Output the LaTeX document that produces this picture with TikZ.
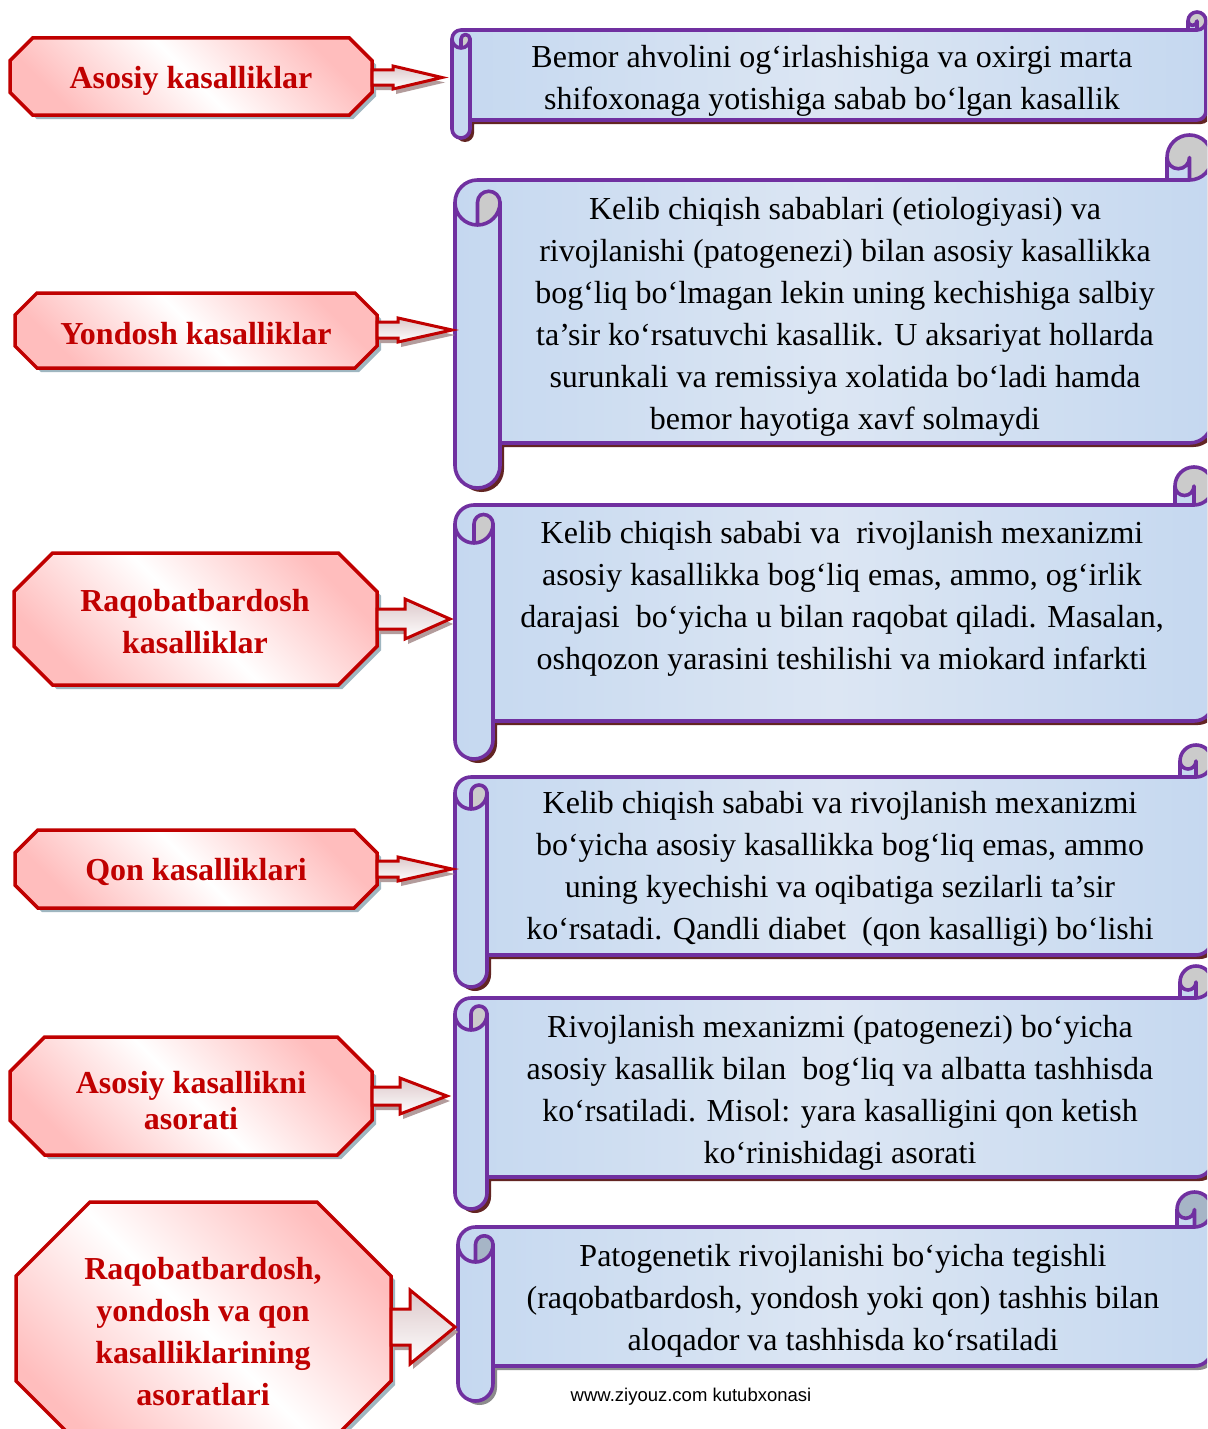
\documentclass[tikz,border=0pt]{standalone}
\usepackage{fontspec}
\setmainfont{Liberation Serif}
\newfontfamily\wmfont{Liberation Sans}
\definecolor{scrollblue}{HTML}{C5D8F0}
\definecolor{scrolllight}{HTML}{DCE6F3}
\definecolor{purp}{HTML}{7030A0}
\definecolor{scrollshadow}{HTML}{632523}
\definecolor{greyshadow}{HTML}{8C8C8C}
\definecolor{redline}{HTML}{C00000}
\definecolor{pinkc}{HTML}{FFBDBD}
\definecolor{octshadow}{HTML}{9FB6C0}
\definecolor{arrshadow}{HTML}{B39C9C}
\definecolor{arrtop}{HTML}{DCC8CA}
\definecolor{curlgrey}{HTML}{CBCBCB}
\definecolor{curlblue}{HTML}{A6B5C6}
\tikzset{
  scrollpath/.style={insert path={(\sL,{\sT+1.5*\sC}) arc[start angle=180,end angle=270,radius=\sH] -- ({\sR-\sC},{\sT+\sC}) -- ({\sR-\sC},{\sT+\sH}) arc[start angle=180,end angle=360,radius=\sH] -- (\sR,{\sB-1.5*\sC}) arc[start angle=0,end angle=90,radius=\sH] -- ({\sL+\sC},{\sB-\sC}) -- ({\sL+\sC},{\sB-\sH}) arc[start angle=0,end angle=180,radius=\sH] -- cycle}},
  octpath/.style={insert path={({\oL+\oC},\oT) -- ({\oR-\oC},\oT) -- (\oR,{\oT+\oC}) -- (\oR,{\oB-\oC}) -- ({\oR-\oC},\oB) -- ({\oL+\oC},\oB) -- (\oL,{\oB-\oC}) -- (\oL,{\oT+\oC}) -- cycle}},
  arrpath/.style={insert path={(\aA,{\aY-\aS}) -- (\aB,{\aY-\aS}) -- (\aB,{\aY-\aH}) -- (\aC,\aY) -- (\aB,{\aY+\aH}) -- (\aB,{\aY+\aS}) -- (\aA,{\aY+\aS}) -- cycle}},
  scrollline/.style={draw=purp, line width=3.6pt, line join=round, line cap=round},
  octtext/.style={text=redline, font=\bfseries\fontsize{32}{42}\selectfont, align=center, inner sep=0pt},
  scrolltext/.style={text=black, font=\fontsize{32}{42}\selectfont, align=center, inner sep=0pt}
}
\newcommand\myscroll[7]{%
  \pgfmathsetmacro\sL{#1}\pgfmathsetmacro\sT{#2}\pgfmathsetmacro\sR{#3}\pgfmathsetmacro\sB{#4}%
  \pgfmathsetmacro\sC{#5}\pgfmathsetmacro\sH{#5/2}\pgfmathsetmacro\sQ{#5/4}%
  \fill[#7, shift={(4,4)}, scrollpath];
  \shade[left color=scrollblue, right color=scrollblue, middle color=scrolllight, scrollpath];
  \fill[#6] ({\sL+\sH},{\sT+2*\sC}) arc[start angle=90,end angle=0,radius=\sH] arc[start angle=0,end angle=-180,radius=\sQ] -- cycle;
  \fill[#6] ({\sR-\sH},{\sT+\sC}) arc[start angle=90,end angle=-180,radius=\sH] arc[start angle=180,end angle=0,radius=\sQ] -- cycle;
  \draw[scrollline, scrollpath];
  \draw[scrollline] ({\sR-\sC},{\sT+\sC}) -- ({\sR-\sH},{\sT+\sC}) arc[start angle=90,end angle=0,radius=\sH];
  \draw[scrollline] ({\sR-\sH},{\sT+\sC}) -- ({\sR-\sH},{\sT+\sH}) arc[start angle=0,end angle=180,radius=\sQ];
  \draw[scrollline] ({\sL+\sH},{\sT+2*\sC}) -- ({\sL+\sH},{\sT+1.5*\sC}) arc[start angle=180,end angle=360,radius=\sQ] arc[start angle=0,end angle=180,radius=\sH];
  \draw[scrollline] ({\sL+\sC},{\sT+1.5*\sC}) -- ({\sL+\sC},{\sB-\sC});
}
\newcommand\myoct[5]{%
  \pgfmathsetmacro\oL{#1}\pgfmathsetmacro\oT{#2}\pgfmathsetmacro\oR{#3}\pgfmathsetmacro\oB{#4}\pgfmathsetmacro\oC{#5}%
  \fill[octshadow, shift={(4,4)}, octpath];
  \shade[top color=pinkc, bottom color=pinkc, middle color=white, shading angle=-45, octpath];
  \draw[draw=redline, line width=3.5pt, line join=miter, octpath];
}
\newcommand\myarrow[6]{%
  \pgfmathsetmacro\aA{#1}\pgfmathsetmacro\aB{#2}\pgfmathsetmacro\aC{#3}\pgfmathsetmacro\aY{#4}\pgfmathsetmacro\aS{#5}\pgfmathsetmacro\aH{#6}%
  \fill[arrshadow, shift={(3,5)}, arrpath];
  \shade[top color=arrtop, bottom color=white, arrpath];
  \draw[draw=redline, line width=3pt, line join=miter, arrpath];
}
\begin{document}
\begin{tikzpicture}[x=1pt,y=-1pt]
\useasboundingbox (0,0) rectangle (1207,1429);
\clip (0,0) rectangle (1207,1429);
\fill[white] (0,0) rectangle (1207,1429);

% scrolls
\myscroll{452}{12}{1206}{138}{18}{curlgrey}{scrollshadow}
\myscroll{455}{135}{1212}{488}{45}{curlgrey}{scrollshadow}
\myscroll{455}{467}{1213}{759}{38}{curlgrey}{scrollshadow}
\myscroll{455}{745}{1212}{987}{32}{curlgrey}{scrollshadow}
\myscroll{455}{966}{1212}{1209}{32}{curlgrey}{scrollshadow}
\myscroll{458}{1192}{1212}{1401}{35}{curlblue}{greyshadow}

% octagons
\myoct{10}{38}{372}{115}{22.6}
\myoct{15}{293}{377}{368}{22}
\myoct{14}{553}{377}{685}{38.7}
\myoct{15}{830}{377}{908}{22.8}
\myoct{10}{1037}{372}{1155}{34.6}
\myoct{16}{1202}{391}{1455}{74}

% block arrows
\myarrow{372}{393}{442}{77.5}{7.5}{11.5}
\myarrow{377}{398}{452}{330}{8}{12}
\myarrow{377}{405}{450}{619}{10}{20}
\myarrow{377}{398}{452}{869}{8}{12}
\myarrow{372}{400}{447}{1096}{9}{18}
\myarrow{391}{410}{455}{1327}{18}{37}

% octagon texts
\node[octtext] (o1) at (191,81) {Asosiy kasalliklar};
\node[octtext] (o2) at (196,334) {Yondosh kasalliklar};
\node[octtext] (o3) at (195,622) {Raqobatbardosh\\kasalliklar};
\node[octtext, font=\bfseries\fontsize{32}{36}\selectfont] (o4) at (196,872) {Qon kasalliklari};
\node[octtext, font=\bfseries\fontsize{32}{36}\selectfont] (o5) at (191,1101) {Asosiy kasallikni\\asorati};
\node[octtext] (o6) at (203,1332) {Raqobatbardosh,\\yondosh va qon\\kasalliklarining\\asoratlari};

% scroll texts
\node[scrolltext] (s1) at (832,81) {Bemor ahvolini og‘irlashishiga va oxirgi marta\\shifoxonaga yotishiga sabab bo‘lgan kasallik};
\node[scrolltext] (s2) at (845,317) {Kelib chiqish sabablari (etiologiyasi) va\\rivojlanishi (patogenezi) bilan asosiy kasallikka\\bog‘liq bo‘lmagan lekin uning kechishiga salbiy\\ta’sir ko‘rsatuvchi kasallik. U aksariyat hollarda\\surunkali va remissiya xolatida bo‘ladi hamda\\bemor hayotiga xavf solmaydi};
\node[scrolltext] (s3) at (842,599) {Kelib chiqish sababi va\ \ rivojlanish mexanizmi\\asosiy kasallikka bog‘liq emas, ammo, og‘irlik\\darajasi\ \ bo‘yicha u bilan raqobat qiladi. Masalan,\\oshqozon yarasini teshilishi va miokard infarkti};
\node[scrolltext] (s4) at (840,869) {Kelib chiqish sababi va rivojlanish mexanizmi\\bo‘yicha asosiy kasallikka bog‘liq emas, ammo\\uning kyechishi va oqibatiga sezilarli ta’sir\\ko‘rsatadi. Qandli diabet\ \ (qon kasalligi) bo‘lishi};
\node[scrolltext] (s5) at (840,1093) {Rivojlanish mexanizmi (patogenezi) bo‘yicha\\asosiy kasallik bilan\ \ bog‘liq va albatta tashhisda\\ko‘rsatiladi. Misol: yara kasalligini qon ketish\\ko‘rinishidagi asorati};
\node[scrolltext] (s6) at (843,1301) {Patogenetik rivojlanishi bo‘yicha tegishli\\(raqobatbardosh, yondosh yoki qon) tashhis bilan\\aloqador va tashhisda ko‘rsatiladi};

\node[font=\wmfont\fontsize{18.5}{20}\selectfont, inner sep=0pt] (wm) at (691,1397) {www.ziyouz.com kutubxonasi};
\end{tikzpicture}
\end{document}
